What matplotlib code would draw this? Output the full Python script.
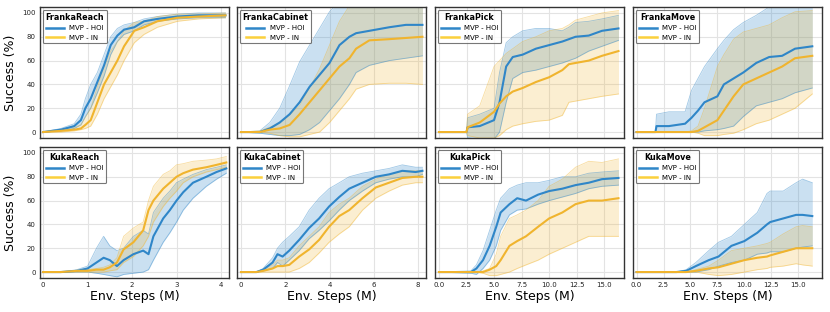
import matplotlib
matplotlib.use("Agg")
import matplotlib.pyplot as plt
import numpy as np

# ---- data (success %, x in million env steps) ----
FR_X = [0, 0.4, 0.7, 0.85, 0.95, 1.07, 1.22, 1.37, 1.52, 1.67, 1.82, 2.05, 2.27, 2.57, 3.02, 3.5, 4.1]
FR_HOI = [0, 2, 5, 10, 20, 28, 42, 56, 73, 81, 86, 88, 93, 95, 97, 98, 98]
FR_HOI_LO = [0, 1, 3, 6, 13, 20, 33, 47, 65, 76, 82, 85, 90, 93, 95, 96, 96]
FR_HOI_HI = [0, 3, 7, 15, 28, 40, 50, 65, 80, 87, 90, 92, 95, 97, 99, 100, 100]
FR_IN = [0, 1, 2, 3, 6, 10, 25, 40, 50, 60, 72, 85, 88, 93, 96, 97, 98]
FR_IN_LO = [0, 0, 1, 2, 3, 5, 15, 28, 38, 48, 60, 75, 82, 88, 93, 95, 96]
FR_IN_HI = [0, 2, 4, 6, 12, 20, 38, 55, 68, 76, 85, 92, 93, 97, 99, 99, 100]

FC_X = [0, 0.85, 1.3, 1.75, 2.2, 2.65, 3.1, 3.55, 4.0, 4.45, 4.9, 5.2, 5.8, 6.7, 7.45, 8.2]
FC_HOI = [0, 0, 3, 8, 15, 25, 38, 48, 58, 73, 80, 83, 85, 88, 90, 90]
FC_HOI_LO = [0, -1, -2, -3, -3, -2, 2, 8, 18, 28, 40, 50, 56, 60, 62, 64]
FC_HOI_HI = [0, 1, 8, 20, 39, 59, 73, 87, 101, 110, 112, 112, 112, 112, 112, 112]
FC_IN = [0, 0, 2, 3, 6, 15, 25, 35, 45, 55, 62, 70, 77, 78, 79, 80]
FC_IN_LO = [0, 0, -1, -3, -4, -4, -2, 0, 8, 18, 28, 36, 40, 41, 41, 40]
FC_IN_HI = [0, 1, 4, 8, 14, 22, 37, 53, 73, 93, 106, 112, 112, 112, 112, 112]

FP_X = [0, 2.5, 2.6, 3.7, 5.0, 5.5, 6.1, 6.7, 7.6, 8.8, 10.0, 11.2, 11.8, 12.4, 13.6, 14.8, 16.3]
FP_HOI = [0, 0, 4, 5, 10, 25, 55, 63, 65, 70, 73, 76, 78, 80, 81, 85, 87]
FP_HOI_LO = [0, 0, -5, -6, -6, 0, 25, 45, 50, 52, 55, 58, 60, 62, 68, 72, 77]
FP_HOI_HI = [0, 0, 12, 15, 20, 50, 75, 80, 85, 87, 87, 85, 88, 92, 93, 95, 98]
FP_IN = [0, 0, 4, 8, 17, 24, 30, 34, 37, 42, 46, 52, 57, 58, 60, 64, 68]
FP_IN_LO = [0, 0, -3, -5, -5, -3, 2, 5, 7, 9, 10, 14, 25, 26, 28, 30, 32]
FP_IN_HI = [0, 0, 15, 22, 55, 60, 66, 70, 76, 80, 85, 87, 90, 94, 97, 100, 102]

FM_X = [0, 1.75, 1.85, 3.0, 4.5, 5.1, 5.7, 6.3, 7.5, 8.1, 9.0, 9.9, 11.1, 12.3, 13.5, 14.7, 16.3]
FM_HOI = [0, 0, 5, 5, 7, 12, 18, 25, 30, 40, 45, 50, 58, 63, 64, 70, 72]
FM_HOI_LO = [0, 0, 0, 0, 0, 0, 0, 1, 2, 3, 5, 13, 22, 25, 28, 33, 37]
FM_HOI_HI = [0, 0, 15, 17, 17, 35, 45, 55, 70, 77, 86, 92, 98, 105, 110, 110, 110]
FM_IN = [0, 0, 0, 0, 0, 0, 1, 4, 10, 18, 30, 40, 45, 50, 55, 62, 64]
FM_IN_LO = [0, 0, 0, 0, 0, 0, -1, -3, -3, -2, -1, 2, 7, 10, 15, 20, 32]
FM_IN_HI = [0, 0, 0, 0, 0, 1, 5, 20, 55, 65, 78, 84, 87, 90, 96, 101, 102]

KR_X = [0, 0.4, 0.76, 1.0, 1.2, 1.36, 1.5, 1.66, 1.81, 2.03, 2.25, 2.37, 2.48, 2.7, 2.85, 3.0, 3.15, 3.37, 3.67, 3.9, 4.12]
KR_HOI = [0, 0, 1, 3, 8, 12, 10, 5, 10, 15, 18, 15, 30, 45, 52, 60, 67, 75, 80, 84, 87]
KR_HOI_LO = [0, 0, 0, 0, -1, -2, -3, -4, -2, -1, 0, 2, 10, 25, 33, 42, 52, 62, 72, 78, 83]
KR_HOI_HI = [0, 0, 2, 5, 20, 30, 22, 18, 20, 30, 35, 32, 50, 62, 68, 75, 78, 82, 86, 88, 90]
KR_IN = [0, 0, 1, 1, 2, 2, 4, 8, 19, 25, 35, 52, 60, 70, 75, 80, 83, 86, 88, 90, 92]
KR_IN_LO = [0, 0, 0, 0, 0, 0, 1, 2, 8, 13, 22, 30, 42, 55, 62, 68, 75, 80, 84, 86, 88]
KR_IN_HI = [0, 0, 1, 2, 3, 4, 6, 12, 30, 37, 42, 60, 72, 82, 85, 90, 91, 93, 94, 95, 97]

KC_X = [0, 0.7, 1.0, 1.43, 1.65, 1.88, 2.18, 2.63, 3.08, 3.53, 3.98, 4.44, 4.89, 5.49, 6.09, 6.69, 7.29, 7.89, 8.2]
KC_HOI = [0, 0, 2, 8, 15, 13, 18, 27, 37, 45, 55, 63, 70, 75, 80, 82, 85, 84, 85]
KC_HOI_LO = [0, 0, 1, 3, 8, 5, 10, 18, 28, 35, 43, 52, 60, 68, 75, 78, 80, 80, 82]
KC_HOI_HI = [0, 0, 3, 12, 20, 25, 30, 38, 52, 62, 70, 75, 80, 83, 85, 87, 90, 88, 88]
KC_IN = [0, 0, 1, 3, 5, 5, 6, 13, 19, 27, 38, 47, 52, 62, 71, 75, 79, 80, 80]
KC_IN_LO = [0, 0, 0, 0, 0, 0, 0, 3, 8, 16, 25, 32, 38, 52, 62, 68, 73, 75, 75]
KC_IN_HI = [0, 0, 2, 6, 10, 10, 12, 22, 30, 38, 50, 57, 62, 72, 78, 82, 85, 85, 85]

KP_X = [0, 2.9, 3.4, 4.0, 4.6, 5.2, 5.6, 6.4, 7.1, 7.9, 9.0, 10.0, 11.2, 12.4, 13.6, 14.8, 16.3]
KP_HOI = [0, 0, 3, 10, 22, 38, 50, 57, 62, 60, 65, 68, 70, 73, 75, 78, 79]
KP_HOI_LO = [0, -1, -2, 3, 10, 22, 35, 48, 52, 53, 57, 60, 63, 66, 70, 72, 73]
KP_HOI_HI = [0, 1, 6, 18, 35, 52, 62, 70, 73, 75, 75, 77, 80, 80, 83, 84, 85]
KP_IN = [0, 0, 0, 0, 2, 5, 10, 22, 26, 30, 38, 45, 50, 57, 60, 60, 62]
KP_IN_LO = [0, 0, 0, -1, -3, -3, -2, 0, 3, 6, 10, 15, 20, 25, 30, 30, 30]
KP_IN_HI = [0, 0, 0, 1, 3, 15, 30, 45, 48, 52, 60, 72, 78, 88, 93, 92, 95]

KM_X = [0, 3.7, 4.6, 5.5, 6.7, 7.6, 8.8, 10.0, 11.2, 12.1, 12.4, 13.6, 14.8, 15.4, 16.3]
KM_HOI = [0, 0, 1, 5, 10, 13, 22, 26, 33, 40, 42, 45, 48, 48, 47]
KM_HOI_LO = [0, 0, 0, 0, 2, 5, 8, 10, 15, 16, 17, 17, 20, 21, 22]
KM_HOI_HI = [0, 0, 2, 8, 18, 25, 30, 40, 50, 66, 68, 68, 75, 78, 75]
KM_IN = [0, 0, 0, 1, 3, 4, 7, 10, 12, 13, 14, 17, 20, 20, 20]
KM_IN_LO = [0, 0, 0, 0, -2, -3, -2, 0, 2, 3, 4, 5, 7, 6, 5]
KM_IN_HI = [0, 0, 0, 2, 5, 10, 18, 20, 22, 24, 25, 32, 38, 39, 38]

panels = [
    ("FrankaReach", FR_X, FR_HOI, FR_HOI_LO, FR_HOI_HI, FR_IN, FR_IN_LO, FR_IN_HI),
    ("FrankaCabinet", FC_X, FC_HOI, FC_HOI_LO, FC_HOI_HI, FC_IN, FC_IN_LO, FC_IN_HI),
    ("FrankaPick", FP_X, FP_HOI, FP_HOI_LO, FP_HOI_HI, FP_IN, FP_IN_LO, FP_IN_HI),
    ("FrankaMove", FM_X, FM_HOI, FM_HOI_LO, FM_HOI_HI, FM_IN, FM_IN_LO, FM_IN_HI),
    ("KukaReach", KR_X, KR_HOI, KR_HOI_LO, KR_HOI_HI, KR_IN, KR_IN_LO, KR_IN_HI),
    ("KukaCabinet", KC_X, KC_HOI, KC_HOI_LO, KC_HOI_HI, KC_IN, KC_IN_LO, KC_IN_HI),
    ("KukaPick", KP_X, KP_HOI, KP_HOI_LO, KP_HOI_HI, KP_IN, KP_IN_LO, KP_IN_HI),
    ("KukaMove", KM_X, KM_HOI, KM_HOI_LO, KM_HOI_HI, KM_IN, KM_IN_LO, KM_IN_HI),
]

# per column x setup
col_xlim = [(-0.07, 4.18), (-0.18, 8.36), (-0.36, 16.8), (-0.33, 17.2)]
col_xticks = [[0, 1, 2, 3, 4], [0, 2, 4, 6, 8],
              [0, 2.5, 5, 7.5, 10, 12.5, 15], [0, 2.5, 5, 7.5, 10, 12.5, 15]]
col_xlabels = [["0", "1", "2", "3", "4"], ["0", "2", "4", "6", "8"],
               ["0.0", "2.5", "5.0", "7.5", "10.0", "12.5", "15.0"],
               ["0.0", "2.5", "5.0", "7.5", "10.0", "12.5", "15.0"]]

BLUE = "#2f86c8"
YELLOW = "#f0b42e"
YELLOW_LEG = "#fbd03c"

plt.rcParams['font.family'] = ['DejaVu Sans']
fig = plt.figure(figsize=(8.3, 3.12), dpi=100)

left_px = [40, 237, 435, 633]
top_px = [7, 147]
w_px, h_px = 189, 131

for i, (name, x, hoi, hoi_lo, hoi_hi, inn, in_lo, in_hi) in enumerate(panels):
    r, c = divmod(i, 4)
    ax = fig.add_axes([left_px[c] / 830, 1 - (top_px[r] + h_px) / 312, w_px / 830, h_px / 312])
    ax.set_facecolor('white')
    ax.grid(True, color='#e3e3e3', linewidth=0.8)
    ax.set_axisbelow(True)

    ax.fill_between(x, hoi_lo, hoi_hi, color=BLUE, alpha=0.25, linewidth=0)
    ax.plot(x, hoi_lo, color=BLUE, alpha=0.45, linewidth=0.6)
    ax.plot(x, hoi_hi, color=BLUE, alpha=0.45, linewidth=0.6)
    ax.fill_between(x, in_lo, in_hi, color=YELLOW, alpha=0.22, linewidth=0)
    ax.plot(x, in_lo, color=YELLOW, alpha=0.45, linewidth=0.6)
    ax.plot(x, in_hi, color=YELLOW, alpha=0.45, linewidth=0.6)
    ax.plot(x, hoi, color=BLUE, linewidth=1.5, label="MVP - HOI")
    ax.plot(x, inn, color=YELLOW, linewidth=1.5, label="MVP - IN")

    ax.set_xlim(*col_xlim[c])
    ax.set_ylim(-5, 105)
    ax.set_yticks([0, 20, 40, 60, 80, 100])
    ax.set_xticks(col_xticks[c])
    ax.tick_params(length=0, labelsize=5, pad=3, colors='#222222')
    if c == 0:
        ax.set_ylabel("Success (%)", fontsize=9)
    else:
        ax.set_yticklabels([])
    if r == 1:
        ax.set_xticklabels(col_xlabels[c])
        ax.set_xlabel("Env. Steps (M)", fontsize=9, labelpad=1)
    else:
        ax.set_xticklabels([])
    for s in ax.spines.values():
        s.set_color('#333333')
        s.set_linewidth(1.0)

    leg = ax.legend(loc='upper left', title=name, fontsize=5, title_fontsize=5.8,
                    frameon=True, fancybox=True, edgecolor='#555555',
                    borderpad=0.4, handlelength=2.6, labelspacing=0.5,
                    borderaxespad=0.4)
    leg.get_title().set_fontweight('bold')
    leg.get_frame().set_linewidth(0.8)
    leg_lines = leg.get_lines()
    for h in leg_lines:
        h.set_linewidth(1.8)
    leg_lines[1].set_color(YELLOW_LEG)

fig.savefig("out.png", dpi=100)
